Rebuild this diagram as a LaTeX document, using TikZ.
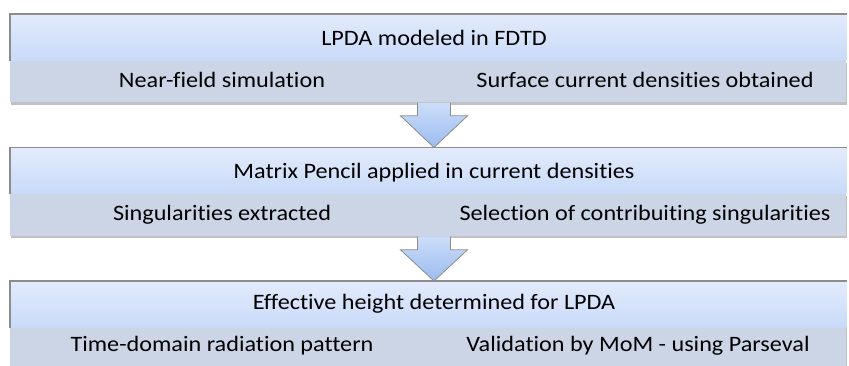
\documentclass[tikz,border=0pt]{standalone}
\usepackage{fontspec}
\setmainfont{Carlito}[Ligatures=NoCommon]
\usetikzlibrary{shadows,calc}
\definecolor{bandtop}{HTML}{E3EBFC}
\definecolor{bandbot}{HTML}{C8DAF8}
\definecolor{itemfill}{HTML}{CBD5E6}
\definecolor{edgegray}{HTML}{8C8C8C}
\definecolor{arrowtop}{HTML}{CCDDF9}
\definecolor{arrowbot}{HTML}{9BBCEF}
\tikzset{
  titleband/.style={anchor=north west, inner sep=0pt, minimum width=418pt, minimum height=23pt,
    top color=bandtop, bottom color=bandbot},
  itemband/.style={anchor=north west, inner sep=0pt, minimum width=418pt, minimum height=21pt,
    fill=itemfill, drop shadow={shadow xshift=0.4pt, shadow yshift=-1.2pt, opacity=0.35, fill=black!70}},
  label/.style={anchor=base, inner sep=0pt, xscale=1.1, font=\fontsize{11}{13}\selectfont},
  edge/.style={draw=edgegray, line width=0.6pt},
  blockarrow/.style={draw=edgegray, line width=0.4pt, top color=arrowtop, bottom color=arrowbot}
}
\begin{document}
\begin{tikzpicture}[x=0.5pt,y=-0.5pt]
\useasboundingbox (0,0) rectangle (849,365);
% first stage
\node[itemband] (s1) at (10,60) {};
\node[titleband] (t1) at (10,14) {};
\draw[edge] (t1.south west) -- (t1.north west) -- (t1.north east);
\node[label] (l1) at (434,45) {LPDA modeled in FDTD};
\node[label] (l1a) at (222,87) {Near-field simulation};
\node[label] (l1b) at (645,87) {Surface current densities obtained};
% second stage
\node[itemband] (s2) at (10,193.5) {};
\node[titleband] (t2) at (10,147.5) {};
\draw[edge] (t2.south west) -- (t2.north west) -- (t2.north east);
\node[label] (l2) at (434,178) {Matrix Pencil applied in current densities};
\node[label] (l2a) at (222,220) {Singularities extracted};
\node[label] (l2b) at (645,220) {Selection of contribuiting singularities};
% third stage
\node[itemband] (s3) at (10,324) {};
\node[titleband] (t3) at (10,281) {};
\draw[edge] (t3.south west) -- (t3.north west) -- (t3.north east);
\node[label] (l3) at (434,309) {Effective height determined for LPDA};
\node[label] (l3a) at (222,351) {Time-domain radiation pattern};
\node[label] (l3b) at (638,351) {Validation by MoM - using Parseval};
% arrows between the stages
\coordinate (a1) at (s1.south -| l1);
\coordinate (p1) at (t2.north -| l1);
\draw[blockarrow] ($(a1)+(-16.5,0)$) -- ++(0,13) -- ++(-17,0) -- (p1) -- ($(a1)+(33.5,13)$) -- ++(-17,0) -- ++(0,-13);
\coordinate (a2) at (s2.south -| l2);
\coordinate (p2) at (t3.north -| l2);
\draw[blockarrow] ($(a2)+(-16.5,0)$) -- ++(0,13.5) -- ++(-17,0) -- (p2) -- ($(a2)+(33.5,13.5)$) -- ++(-17,0) -- ++(0,-13.5);
\end{tikzpicture}
\end{document}
